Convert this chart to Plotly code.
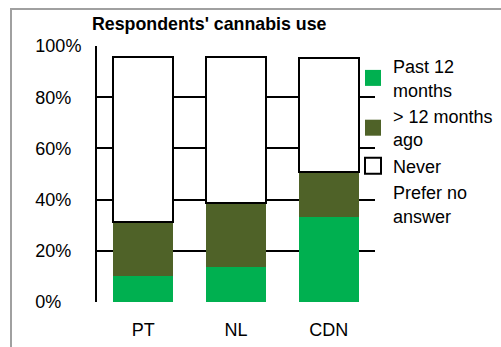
import plotly.graph_objects as go

categories = ["PT", "NL", "CDN"]
past_12_months = [10.2, 13.7, 33.3]
more_than_12_months = [20.9, 25.1, 17.6]
never = [64.5, 56.8, 44.4]
prefer_no_answer = [4.4, 4.4, 4.7]

series_names = ["Past 12<br>months", "> 12 months<br>ago", "Never", "Prefer no<br>answer"]
series_colors = ["#00B050", "#4F6228", "#FFFFFF", "rgba(0,0,0,0)"]
tick_values = [0, 20, 40, 60, 80, 100]
tick_labels = ["0%\u2007\u2007", "20%\u2007", "40%\u2007", "60%\u2007", "80%\u2007", "100%"]

FONT = "Liberation Sans"
FS = 18

series_values = [past_12_months, more_than_12_months, never, prefer_no_answer]
line_widths = [0, 0, 2, 0]

fig = go.Figure()
for name, vals, col, lw in zip(series_names, series_values, series_colors, line_widths):
    fig.add_trace(go.Bar(x=categories, y=vals, name=name, showlegend=False, legendgroup=name,
                         marker=dict(color=col, line=dict(color="#000000", width=lw))))
# legend entries (larger square keys, like the original)
for name, col, lw in zip(series_names, series_colors, line_widths):
    fig.add_trace(go.Scatter(x=[None], y=[None], mode="markers", name=name, legendgroup=name,
                             marker=dict(symbol="square", size=19 if lw == 0 else 17, color=col,
                                         line=dict(color="#000000", width=lw))))

L, R, T, B = 97, 126, 46, 45
W, H = 501, 347
pw, ph = W - L - R, H - T - B

fig.update_layout(
    width=W, height=H,
    margin=dict(l=L, r=R, t=T, b=B, autoexpand=False),
    barmode="stack",
    bargap=0.353,
    plot_bgcolor="white",
    paper_bgcolor="white",
    font=dict(family=FONT, size=FS, color="#000000"),
    title=dict(text="<b>Respondents' cannabis use</b>", font=dict(family=FONT, size=17.8, color="#000000"),
               xref="container", x=92 / W, xanchor="left",
               yref="container", y=1 - 24 / H, yanchor="middle"),
    showlegend=True,
    legend=dict(traceorder="normal", x=(353 - L) / pw, xanchor="left",
                y=(H - B - 48) / ph, yanchor="top", itemsizing="trace",
                font=dict(family=FONT, size=FS), bgcolor="rgba(0,0,0,0)"),
    xaxis=dict(showgrid=False, showline=False, zeroline=False, ticks="", automargin=False,
               tickfont=dict(size=FS), ticklabelstandoff=15),
    yaxis=dict(range=[0, 100], tickvals=tick_values, ticktext=tick_labels, automargin=False,
               showgrid=True, gridcolor="#000000", gridwidth=2,
               zeroline=False, showline=True, linecolor="#000000", linewidth=2,
               ticks="", tickfont=dict(size=FS), ticklabelstandoff=10),
    shapes=[dict(type="rect", xref="paper", yref="paper",
                 x0=(11 - L) / pw, y0=-0.6, x1=1.6, y1=(H - B - 9) / ph,
                 line=dict(color="#A0A0A0", width=2), fillcolor="rgba(0,0,0,0)", layer="below")],
)

fig.write_html("out.html")
